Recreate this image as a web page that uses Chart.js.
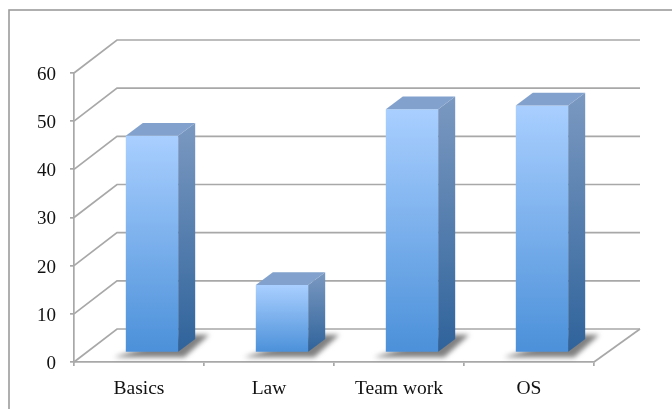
<!DOCTYPE html>
<html>
<head>
<meta charset="utf-8">
<style>
html,body{margin:0;padding:0;background:#fff;overflow:hidden}
canvas{display:block}
</style>
<script src="https://cdn.jsdelivr.net/npm/chart.js@4"></script>
</head>
<body>
<canvas id="c" width="672" height="409"></canvas>
<script>
const categories = ['Basics', 'Law', 'Team work', 'OS'];
const values = [45, 14, 50.5, 51.3];
const yTicks = [0, 10, 20, 30, 40, 50, 60];

const GRID = '#a8a8a8';
const WALL_DX = 43, WALL_DY = -33;   // depth of the floor/wall
const BAR_DX = 13, BAR_DY = -9.5;    // bar row position inside the depth
const DEPTH_DX = 17, DEPTH_DY = -12.7; // depth of each bar

function grad(ctx, y0, y1, c0, c1) {
  const g = ctx.createLinearGradient(0, y0, 0, y1);
  g.addColorStop(0, c0); g.addColorStop(1, c1);
  return g;
}

function poly(ctx, pts, fill) {
  ctx.beginPath();
  pts.forEach((p, i) => i ? ctx.lineTo(p[0], p[1]) : ctx.moveTo(p[0], p[1]));
  ctx.closePath();
  ctx.fillStyle = fill;
  ctx.fill();
}

const frame = {
  id: 'frame',
  beforeDraw(chart) {
    const c = chart.ctx;
    c.save();
    c.fillStyle = '#fff';
    c.fillRect(0, 0, chart.width, chart.height);
    c.strokeStyle = '#9c9c9c';
    c.lineWidth = 1.6;
    c.strokeRect(9, 10, 700, 440);
    c.restore();
  }
};

const walls = {
  id: 'walls',
  beforeDatasetsDraw(chart) {
    const c = chart.ctx, y = chart.scales.y, a = chart.chartArea;
    c.save();
    c.strokeStyle = GRID;
    c.lineWidth = 1.7;
    yTicks.forEach(v => {
      const py = y.getPixelForValue(v);
      c.beginPath();
      c.moveTo(a.left, py);
      c.lineTo(a.left + WALL_DX, py + WALL_DY);
      c.lineTo(a.right + WALL_DX + 3, py + WALL_DY);
      c.stroke();
    });
    const p0 = y.getPixelForValue(0);
    c.beginPath();
    c.moveTo(a.right, p0);
    c.lineTo(a.right + WALL_DX + 3, p0 + WALL_DY);
    c.stroke();

    // floor shadows
    const meta = chart.getDatasetMeta(0);
    c.filter = 'blur(2.5px)';
    meta.data.forEach(b => {
      const l = b.x - b.width / 2 + BAR_DX, r = b.x + b.width / 2 + BAR_DX, base = b.base + BAR_DY;
      poly(c, [[l - 12, base + 5.5], [r + 6, base + 5.5], [r + 31, base - 17], [r + 10, base - 17]], 'rgba(85,85,85,0.75)');
    });
    c.restore();

    // shift the bars into their row
    c.save();
    c.translate(BAR_DX, BAR_DY);
  },
  afterDatasetsDraw(chart) {
    const c = chart.ctx;
    const meta = chart.getDatasetMeta(0);
    meta.data.forEach(b => {
      const l = b.x - b.width / 2, r = b.x + b.width / 2, t = b.y, base = b.base;
      poly(c, [[r, t], [r + DEPTH_DX, t + DEPTH_DY], [r + DEPTH_DX, base + DEPTH_DY], [r, base]],
        grad(c, t + DEPTH_DY, base, '#7b99c1', '#2f639b'));
      poly(c, [[l, t], [l + DEPTH_DX, t + DEPTH_DY], [r + DEPTH_DX, t + DEPTH_DY], [r, t]], '#82a2cd');
    });
    c.restore();
  }
};

new Chart(document.getElementById('c'), {
  type: 'bar',
  data: {
    labels: categories,
    datasets: [{
      data: values,
      borderWidth: 0,
      categoryPercentage: 1,
      barPercentage: 0.403,
      backgroundColor(ctx) {
        const s = ctx.chart.scales.y;
        if (!s || !ctx.parsed) return '#6fa8e6';
        const y0 = s.getPixelForValue(ctx.parsed.y), y1 = s.getPixelForValue(0);
        if (!isFinite(y0) || !isFinite(y1)) return '#6fa8e6';
        return grad(ctx.chart.ctx, y0, y1, '#a9cfff', '#4b90d9');
      }
    }]
  },
  options: {
    responsive: false,
    animation: false,
    events: [],
    layout: { padding: { left: 10, right: 78, top: 73, bottom: 0 } },
    plugins: { legend: { display: false }, tooltip: { enabled: false } },
    scales: {
      x: {
        afterFit(s) { s.height = 47; },
        grid: { drawOnChartArea: false, drawTicks: true, tickLength: 4, color: GRID, lineWidth: 1.7 },
        border: { display: true, color: GRID, width: 1.7 },
        ticks: { color: '#111', padding: 11, maxRotation: 0, font: { family: '"Liberation Serif"', size: 19.5 } }
      },
      y: {
        min: 0, max: 60,
        afterFit(s) { s.width = 64; },
        afterBuildTicks(s) { s.ticks = yTicks.map(v => ({ value: v })); },
        grid: { drawOnChartArea: false, drawTicks: true, tickLength: 4, color: GRID, lineWidth: 1.7 },
        border: { display: true, color: GRID, width: 1.7 },
        ticks: { color: '#111', padding: 14, labelOffset: 2, font: { family: '"Liberation Serif"', size: 19 } }
      }
    }
  },
  plugins: [frame, walls]
});
</script>
</body>
</html>
